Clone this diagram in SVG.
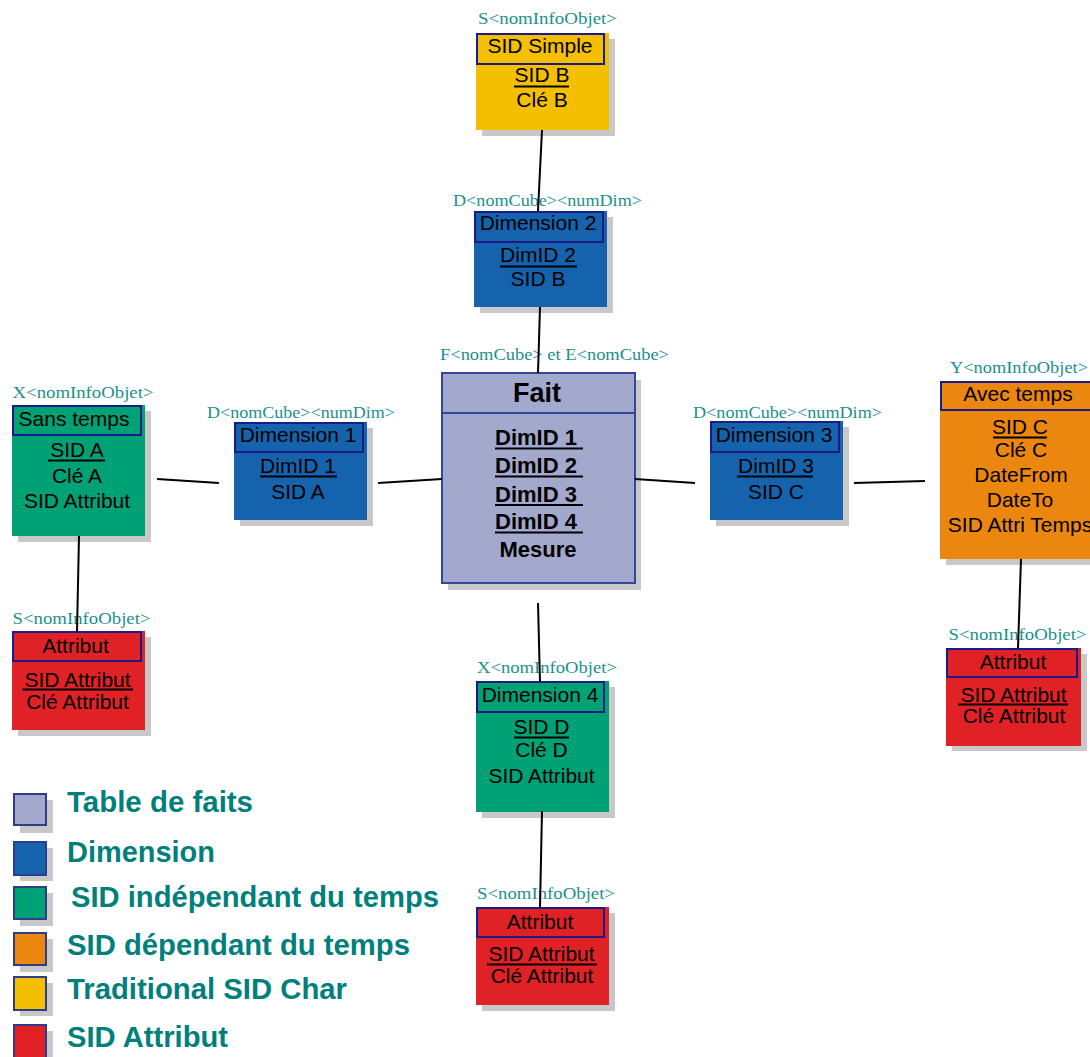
<svg xmlns="http://www.w3.org/2000/svg" width="1090" height="1057" viewBox="0 0 1090 1057">
<style>
.bg{fill:#ffffff}
.sh{fill:#c8c8c8}
.hd{fill:none;stroke:#1a1a8a;stroke-width:2}
.yel{fill:#f3bf00}
.blu{fill:#1663ad}
.grn{fill:#00a275}
.org{fill:#eb870f}
.red{fill:#e02226}
.fait{fill:#a3a9cd;stroke:#34469a;stroke-width:2}
.t{font-family:"Liberation Sans",Arial,sans-serif;font-size:21px;fill:#000;text-anchor:middle}
.tb{font-family:"Liberation Sans",Arial,sans-serif;font-size:22px;font-weight:bold;fill:#000}
.tt{font-family:"Liberation Sans",Arial,sans-serif;font-size:27px;font-weight:bold;fill:#000;text-anchor:middle}
.lb{font-family:"Liberation Serif","Times New Roman",serif;font-size:16.5px;fill:#1a918a}
.ul{stroke:#000;stroke-width:2}
.cn{stroke:#000;stroke-width:2;fill:none}
.lg{font-family:"Liberation Sans",Arial,sans-serif;font-size:29px;font-weight:bold;fill:#007f7b}
.lsq{stroke:#2e3c8c;stroke-width:2}
</style>
<rect class="bg" x="0" y="0" width="1090" height="1057"/>

<g id="sid-simple">
<rect class="sh" x="482" y="39" width="133" height="97"/>
<rect class="yel" x="476" y="33" width="133" height="97"/>
<rect class="hd" x="477" y="34" width="127" height="30"/>
<text class="lb" x="478" y="24" textLength="139" lengthAdjust="spacingAndGlyphs">S&lt;nomInfoObjet&gt;</text>
<text class="t" x="540" y="53">SID Simple</text>
<text class="t" x="542" y="82">SID B</text>
<line class="ul" x1="514" y1="86.5" x2="569" y2="86.5"/>
<text class="t" x="542" y="107">Clé B</text>
</g>

<g id="dimension2">
<rect class="sh" x="480" y="217" width="133" height="96"/>
<rect class="blu" x="474" y="211" width="133" height="96"/>
<rect class="hd" x="475" y="212" width="128" height="30"/>
<text class="lb" x="453" y="206" textLength="189" lengthAdjust="spacingAndGlyphs">D&lt;nomCube&gt;&lt;numDim&gt;</text>
<text class="t" x="538" y="230">Dimension 2</text>
<text class="t" x="538" y="262">DimID 2</text>
<line class="ul" x1="500" y1="266.5" x2="577" y2="266.5"/>
<text class="t" x="538" y="286">SID B</text>
</g>

<g id="fait">
<rect class="sh" x="448" y="380" width="193" height="210"/>
<rect class="fait" x="442" y="373" width="193" height="210"/>
<line x1="442" y1="413" x2="635" y2="413" stroke="#34469a" stroke-width="2"/>
<text class="lb" x="440" y="360" textLength="229" lengthAdjust="spacingAndGlyphs">F&lt;nomCube&gt; et E&lt;nomCube&gt;</text>
<text class="tt" x="537" y="402">Fait</text>
<text class="tb" x="495" y="445">DimID 1</text>
<line class="ul" x1="495" y1="448.5" x2="583" y2="448.5"/>
<text class="tb" x="495" y="473">DimID 2</text>
<line class="ul" x1="495" y1="476.5" x2="583" y2="476.5"/>
<text class="tb" x="495" y="501.5">DimID 3</text>
<line class="ul" x1="495" y1="505" x2="583" y2="505"/>
<text class="tb" x="495" y="529">DimID 4</text>
<line class="ul" x1="495" y1="532.5" x2="583" y2="532.5"/>
<text class="tb" x="538" y="557" text-anchor="middle">Mesure</text>
</g>

<g id="sans-temps">
<rect class="sh" x="18" y="411" width="133" height="131"/>
<rect class="grn" x="12" y="405" width="133" height="131"/>
<rect class="hd" x="13" y="406" width="128" height="29"/>
<text class="lb" x="12.5" y="398" textLength="141" lengthAdjust="spacingAndGlyphs">X&lt;nomInfoObjet&gt;</text>
<text class="t" x="74" y="426">Sans temps</text>
<text class="t" x="77" y="457">SID A</text>
<line class="ul" x1="48" y1="460.5" x2="105" y2="460.5"/>
<text class="t" x="77" y="483">Clé A</text>
<text class="t" x="77" y="508">SID Attribut</text>
</g>

<g id="dimension1">
<rect class="sh" x="240" y="428" width="133" height="98"/>
<rect class="blu" x="234" y="422" width="133" height="98"/>
<rect class="hd" x="235" y="423" width="128" height="29"/>
<text class="lb" x="207" y="418" textLength="188" lengthAdjust="spacingAndGlyphs">D&lt;nomCube&gt;&lt;numDim&gt;</text>
<text class="t" x="298" y="442">Dimension 1</text>
<text class="t" x="298" y="473">DimID 1</text>
<line class="ul" x1="260" y1="476.5" x2="337" y2="476.5"/>
<text class="t" x="298" y="499">SID A</text>
</g>

<g id="attribut-left">
<rect class="sh" x="18" y="637" width="133" height="99"/>
<rect class="red" x="12" y="631" width="133" height="99"/>
<rect class="hd" x="13" y="632" width="128" height="29"/>
<text class="lb" x="12.5" y="624" textLength="138" lengthAdjust="spacingAndGlyphs">S&lt;nomInfoObjet&gt;</text>
<text class="t" x="75.5" y="653">Attribut</text>
<text class="t" x="77.5" y="686.5">SID Attribut</text>
<line class="ul" x1="22.5" y1="689.5" x2="133" y2="689.5"/>
<text class="t" x="77.5" y="708.5">Clé Attribut</text>
</g>

<g id="dimension3">
<rect class="sh" x="716" y="427" width="133" height="99"/>
<rect class="blu" x="710" y="421" width="133" height="99"/>
<rect class="hd" x="711" y="422" width="128" height="30"/>
<text class="lb" x="693" y="418" textLength="189" lengthAdjust="spacingAndGlyphs">D&lt;nomCube&gt;&lt;numDim&gt;</text>
<text class="t" x="774" y="442">Dimension 3</text>
<text class="t" x="776" y="473">DimID 3</text>
<line class="ul" x1="737" y1="476.5" x2="813" y2="476.5"/>
<text class="t" x="776" y="499">SID C</text>
</g>

<g id="avec-temps">
<rect class="sh" x="946" y="387" width="150" height="178"/>
<rect class="org" x="940" y="381" width="155" height="178"/>
<rect class="hd" x="941" y="382" width="155" height="28"/>
<text class="lb" x="950" y="373" textLength="138" lengthAdjust="spacingAndGlyphs">Y&lt;nomInfoObjet&gt;</text>
<text class="t" x="1018" y="401">Avec temps</text>
<text class="t" x="1020" y="434">SID C</text>
<line class="ul" x1="993" y1="437.5" x2="1047" y2="437.5"/>
<text class="t" x="1021" y="457">Clé C</text>
<text class="t" x="1021" y="482">DateFrom</text>
<text class="t" x="1020" y="507">DateTo</text>
<text class="t" x="1020" y="532">SID Attri Temps</text>
</g>

<g id="attribut-right">
<rect class="sh" x="952" y="654" width="135" height="97"/>
<rect class="red" x="946" y="648" width="135" height="98"/>
<rect class="hd" x="947" y="649" width="130" height="28"/>
<text class="lb" x="948.5" y="640" textLength="138" lengthAdjust="spacingAndGlyphs">S&lt;nomInfoObjet&gt;</text>
<text class="t" x="1013" y="669">Attribut</text>
<text class="t" x="1013.5" y="701.5">SID Attribut</text>
<line class="ul" x1="958" y1="704.5" x2="1068" y2="704.5"/>
<text class="t" x="1014" y="723">Clé Attribut</text>
</g>

<g id="dimension4">
<rect class="sh" x="482" y="687" width="133" height="131"/>
<rect class="grn" x="476" y="681" width="133" height="131"/>
<rect class="hd" x="477" y="682" width="127" height="30"/>
<text class="lb" x="477" y="673" textLength="140" lengthAdjust="spacingAndGlyphs">X&lt;nomInfoObjet&gt;</text>
<text class="t" x="540" y="702">Dimension 4</text>
<text class="t" x="541.5" y="734">SID D</text>
<line class="ul" x1="514" y1="737.5" x2="569" y2="737.5"/>
<text class="t" x="541.5" y="757">Clé  D</text>
<text class="t" x="541.5" y="783">SID Attribut</text>
</g>

<g id="attribut-bottom">
<rect class="sh" x="482" y="913" width="133" height="98"/>
<rect class="red" x="476" y="907" width="133" height="98"/>
<rect class="hd" x="477" y="908" width="127" height="29"/>
<text class="lb" x="477" y="899" textLength="138" lengthAdjust="spacingAndGlyphs">S&lt;nomInfoObjet&gt;</text>
<text class="t" x="540" y="929">Attribut</text>
<text class="t" x="541.5" y="961">SID Attribut</text>
<line class="ul" x1="487" y1="964.5" x2="597" y2="964.5"/>
<text class="t" x="542" y="983">Clé Attribut</text>
</g>

<g id="connectors">
<line class="cn" x1="542" y1="130" x2="538" y2="211"/>
<line class="cn" x1="540" y1="307" x2="538" y2="373"/>
<line class="cn" x1="378" y1="483" x2="442" y2="479"/>
<line class="cn" x1="157" y1="479" x2="219" y2="483"/>
<line class="cn" x1="79" y1="536" x2="77" y2="632"/>
<line class="cn" x1="635" y1="479" x2="695" y2="483"/>
<line class="cn" x1="854" y1="483" x2="925" y2="481"/>
<line class="cn" x1="1021" y1="559" x2="1018" y2="648"/>
<line class="cn" x1="538" y1="603" x2="540" y2="682"/>
<line class="cn" x1="542" y1="811" x2="540" y2="907"/>
</g>

<g id="legend">
<rect class="sh" x="20" y="800" width="33" height="33"/>
<rect class="lsq" x="14" y="794" width="32" height="31" fill="#a3a9cd"/>
<text class="lg" x="67" y="812" textLength="186" lengthAdjust="spacingAndGlyphs">Table de faits</text>
<rect class="sh" x="20" y="848" width="33" height="33"/>
<rect class="lsq" x="14" y="842" width="32" height="33" fill="#1663ad"/>
<text class="lg" x="67" y="862" textLength="148" lengthAdjust="spacingAndGlyphs">Dimension</text>
<rect class="sh" x="20" y="893" width="33" height="33"/>
<rect class="lsq" x="14" y="887" width="32" height="32" fill="#00a275"/>
<text class="lg" x="71" y="906.5" textLength="368" lengthAdjust="spacingAndGlyphs">SID indépendant du temps</text>
<rect class="sh" x="20" y="939" width="33" height="33"/>
<rect class="lsq" x="14" y="933" width="32" height="32" fill="#eb870f"/>
<text class="lg" x="67" y="955" textLength="343" lengthAdjust="spacingAndGlyphs">SID dépendant du temps</text>
<rect class="sh" x="20" y="983" width="33" height="33"/>
<rect class="lsq" x="14" y="977" width="32" height="33" fill="#f3bf00"/>
<text class="lg" x="67" y="998.5" textLength="280" lengthAdjust="spacingAndGlyphs">Traditional SID Char</text>
<rect class="sh" x="20" y="1031" width="33" height="33"/>
<rect class="lsq" x="14" y="1025" width="32" height="40" fill="#e02226"/>
<text class="lg" x="67" y="1046.5" textLength="161" lengthAdjust="spacingAndGlyphs">SID Attribut</text>
</g>
</svg>
